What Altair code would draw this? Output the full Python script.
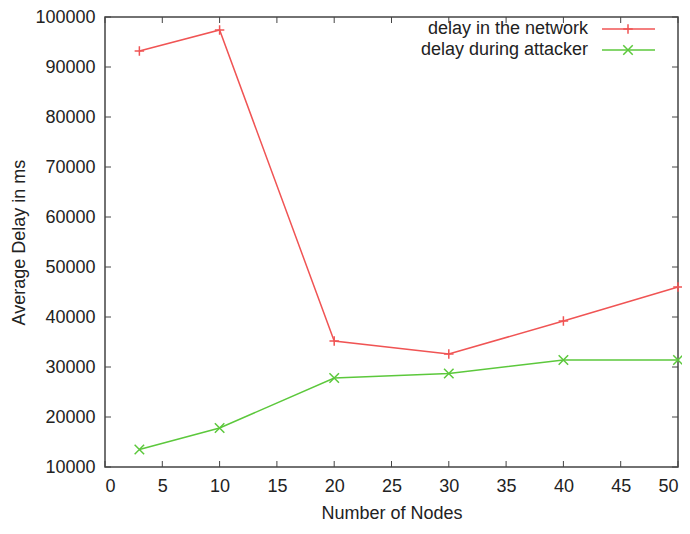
import altair as alt
import pandas as pd

# ---- data ----
nodes = [3, 10, 20, 30, 40, 50]
delay_network = [93200, 97400, 35200, 32600, 39200, 46000]
delay_attacker = [13500, 17800, 27800, 28700, 31400, 31400]
series_names = ["delay in the network", "delay during attacker"]
x_ticks = [0, 5, 10, 15, 20, 25, 30, 35, 40, 45, 50]
y_ticks = [10000, 20000, 30000, 40000, 50000, 60000, 70000, 80000, 90000, 100000]

# ---- styles ----
colors = ["#f05454", "#5cc83c"]
shapes = ["M-1,0L1,0M0,-1L0,1", "M-1,-1L1,1M-1,1L1,-1"]
FONT = "Liberation Sans"
TEXT = "#222222"
BORDER = "#444444"
W, H = 573, 450
TICK = 6

df = pd.DataFrame({
    "nodes": nodes * 2,
    "delay": delay_network + delay_attacker,
    "series": [series_names[0]] * len(nodes) + [series_names[1]] * len(nodes),
})

xs = alt.Scale(domain=[0, 50], nice=False, zero=False)
ys = alt.Scale(domain=[10000, 100000], nice=False, zero=False)
cscale = alt.Scale(domain=series_names, range=colors)
sscale = alt.Scale(domain=series_names, range=shapes)

x_axis = alt.Axis(values=x_ticks, title="Number of Nodes", format="d",
                  labelPadding=10, titlePadding=9)
y_axis = alt.Axis(values=y_ticks, title="Average Delay in ms", format="d",
                  labelPadding=10, titlePadding=6)


def X(field):
    return alt.X(field, scale=xs, axis=x_axis, title="Number of Nodes")


def Y(field):
    return alt.Y(field, scale=ys, axis=y_axis, title="Average Delay in ms")


lines = alt.Chart(df).mark_line(strokeWidth=1.5).encode(
    x=X("nodes:Q"), y=Y("delay:Q"),
    color=alt.Color("series:N", scale=cscale, legend=None),
)
points = alt.Chart(df).mark_point(filled=False, strokeWidth=1.5, size=90, opacity=1).encode(
    x=X("nodes:Q"), y=Y("delay:Q"),
    color=alt.Color("series:N", scale=cscale, legend=None),
    shape=alt.Shape("series:N", scale=sscale, legend=None),
)

xt = pd.DataFrame({"nodes": x_ticks})
yt = pd.DataFrame({"delay": y_ticks})
tick_style = dict(color=BORDER, strokeWidth=1)
ticks_bottom = alt.Chart(xt).mark_rule(**tick_style).encode(
    x=X("nodes:Q"), y=alt.value(H), y2=alt.value(H - TICK))
ticks_top = alt.Chart(xt).mark_rule(**tick_style).encode(
    x=X("nodes:Q"), y=alt.value(0), y2=alt.value(TICK))
ticks_left = alt.Chart(yt).mark_rule(**tick_style).encode(
    y=Y("delay:Q"), x=alt.value(0), x2=alt.value(TICK))
ticks_right = alt.Chart(yt).mark_rule(**tick_style).encode(
    y=Y("delay:Q"), x=alt.value(W - TICK), x2=alt.value(W))

# ---- gnuplot-style key (text then sample), top right ----
key_layers = []
row_y = [12, 33]
for i, name in enumerate(series_names):
    kd = pd.DataFrame({"name": [name]})
    key_layers.append(alt.Chart(kd).mark_text(
        align="right", baseline="middle", fontSize=18, font=FONT, color=TEXT
    ).encode(text="name:N", x=alt.value(483), y=alt.value(row_y[i])))
    key_layers.append(alt.Chart(kd).mark_rule(color=colors[i], strokeWidth=1.5).encode(
        x=alt.value(497), x2=alt.value(550), y=alt.value(row_y[i])))
    key_layers.append(alt.Chart(kd).mark_point(
        shape=shapes[i], size=90, filled=False, strokeWidth=1.5, color=colors[i], opacity=1
    ).encode(x=alt.value(523), y=alt.value(row_y[i])))

chart = alt.layer(
    lines, points, ticks_bottom, ticks_top, ticks_left, ticks_right, *key_layers
).properties(
    width=W, height=H,
    autosize=alt.AutoSizeParams(type="none"),
    padding={"left": 97, "right": 4, "top": 9, "bottom": 55},
).configure_view(
    stroke=BORDER, strokeWidth=1.5
).configure_axis(
    domain=False, ticks=False, grid=False,
    labelFont=FONT, labelFontSize=18, labelColor=TEXT,
    titleFont=FONT, titleFontSize=18, titleColor=TEXT, titleFontWeight="normal",
)

chart.save("out.html", embed_options={"renderer": "svg", "actions": False})
